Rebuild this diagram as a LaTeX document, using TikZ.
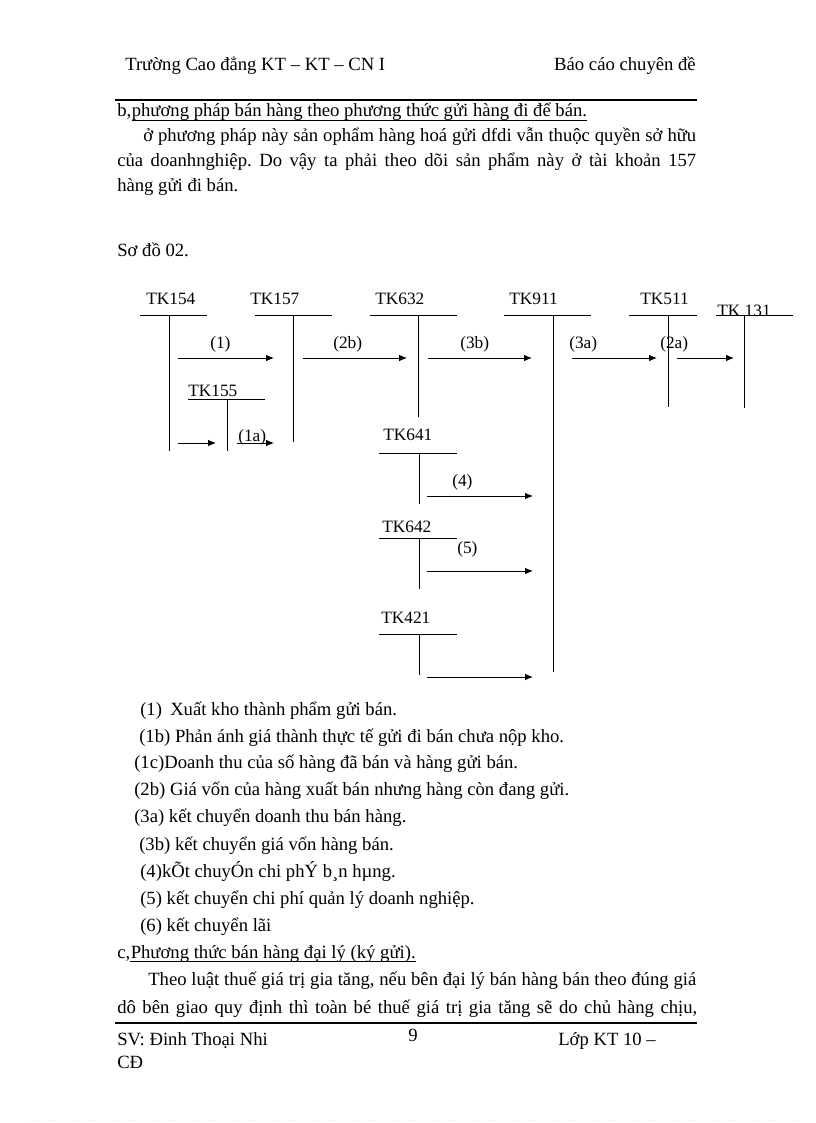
\documentclass[tikz,border=0pt]{standalone}
\usepackage{fontspec}
\setmainfont{Liberation Serif}
\usetikzlibrary{arrows.meta}
\newlength\pxu
\setlength\pxu{0.75pt}
\frenchspacing
\begin{document}
\begin{tikzpicture}[x=0.75pt,y=-0.75pt,
 txt/.style={anchor=base west,inner sep=0pt,font=\fontsize{14}{16}\selectfont},
 lbl/.style={anchor=base west,inner sep=0pt,font=\fontsize{13}{15}\selectfont},
 acc/.style={line width=0.75pt},
 arr/.style={line width=0.75pt,-{Latex[length=6pt,width=5pt]}},
 hrule/.style={line width=1.6pt},
 uline/.style={line width=0.6pt}]
\useasboundingbox[fill=white] (0,0) rectangle (816,1123);
% header
\node[txt] (h1) at (125,71) {Trường Cao đẳng KT – KT – CN I};
\node[txt,anchor=base east] (h2) at (696,71) {Báo cáo chuyên đề};
\coordinate (r1a) at (115,100); \coordinate (r1b) at (697,100);
\draw[hrule] (r1a) -- (r1b);
% section b
\node[txt] (b0) at (117,117) {b,};
\node[txt] (b1) at (b0.base east) {phương pháp bán hàng theo phương thức gửi hàng đi để bán.};
\draw[uline] ([yshift=-2.2pt]b1.base west) -- ([yshift=-2.2pt]b1.base east);
\node[txt] (p1) at (143,142) {\makebox[553\pxu][s]{ở phương pháp này sản ophẩm hàng hoá gửi dfdi vẫn thuộc quyền sở hữu}};
\node[txt] (p2) at (117,167) {\makebox[579\pxu][s]{của doanhnghiệp. Do vậy ta phải theo dõi sản phẩm này ở tài khoản 157}};
\node[txt] (p3) at (117,192) {hàng gửi đi bán.};
\node[txt] (s0) at (117,257) {Sơ đồ 02.};
% accounts
\node[lbl] (tk154) at (146,304) {TK154};
\coordinate (a154l) at (140,315); \coordinate (a154r) at (207,315);
\coordinate (a154t) at (169,315); \coordinate (a154b) at (169,451);
\draw[acc] (a154l) -- (a154r); \draw[acc] (a154t) -- (a154b);
\node[lbl] (tk157) at (250,304) {TK157};
\coordinate (a157l) at (255,315); \coordinate (a157r) at (332,315);
\coordinate (a157t) at (293,315); \coordinate (a157b) at (293,442);
\draw[acc] (a157l) -- (a157r); \draw[acc] (a157t) -- (a157b);
\node[lbl] (tk632) at (375,304) {TK632};
\coordinate (a632l) at (370,315); \coordinate (a632r) at (457,315);
\coordinate (a632t) at (418,315); \coordinate (a632b) at (418,417);
\draw[acc] (a632l) -- (a632r); \draw[acc] (a632t) -- (a632b);
\node[lbl] (tk911) at (509,304) {TK911};
\coordinate (a911l) at (504,315); \coordinate (a911r) at (591,315);
\coordinate (a911t) at (553,315); \coordinate (a911b) at (553,672);
\draw[acc] (a911l) -- (a911r); \draw[acc] (a911t) -- (a911b);
\node[lbl] (tk511) at (640,304) {TK511};
\coordinate (a511l) at (629,315); \coordinate (a511r) at (697,315);
\coordinate (a511t) at (668,315); \coordinate (a511b) at (668,407);
\draw[acc] (a511l) -- (a511r); \draw[acc] (a511t) -- (a511b);
\node[lbl] (tk131) at (717,316) {TK 131};
\coordinate (a131l) at (716,315); \coordinate (a131r) at (793,315);
\coordinate (a131t) at (744,315); \coordinate (a131b) at (744,408);
\draw[acc] (a131l) -- (a131r); \draw[acc] (a131t) -- (a131b);
\node[lbl] (tk155) at (188,396) {TK155};
\coordinate (a155l) at (188,399); \coordinate (a155r) at (265,399);
\coordinate (a155t) at (227,399); \coordinate (a155b) at (227,451);
\draw[acc] (a155l) -- (a155r); \draw[acc] (a155t) -- (a155b);
\node[lbl] (tk641) at (383,440) {TK641};
\coordinate (a641l) at (379,453); \coordinate (a641r) at (457,453);
\coordinate (a641t) at (419,453); \coordinate (a641b) at (419,504);
\draw[acc] (a641l) -- (a641r); \draw[acc] (a641t) -- (a641b);
\node[lbl] (tk642) at (382,532) {TK642};
\coordinate (a642l) at (379,538); \coordinate (a642r) at (457,538);
\coordinate (a642t) at (419,538); \coordinate (a642b) at (419,589);
\draw[acc] (a642l) -- (a642r); \draw[acc] (a642t) -- (a642b);
\node[lbl] (tk421) at (381,623) {TK421};
\coordinate (a421l) at (379,634); \coordinate (a421r) at (457,634);
\coordinate (a421t) at (419,634); \coordinate (a421b) at (419,675);
\draw[acc] (a421l) -- (a421r); \draw[acc] (a421t) -- (a421b);
% arrows
\coordinate (e1s) at (178,358); \coordinate (e1e) at (274,358);
\draw[arr] (e1s) -- (e1e); \node[lbl] (l1) at (210,348) {(1)};
\coordinate (e2bs) at (303,358); \coordinate (e2be) at (407,358);
\draw[arr] (e2bs) -- (e2be); \node[lbl] (l2b) at (333,348) {(2b)};
\coordinate (e3bs) at (428,358); \coordinate (e3be) at (532,358);
\draw[arr] (e3bs) -- (e3be); \node[lbl] (l3b) at (460,348) {(3b)};
\coordinate (e3as) at (572,358); \coordinate (e3ae) at (657,358);
\draw[arr] (e3as) -- (e3ae); \node[lbl] (l3a) at (569,348) {(3a)};
\coordinate (e2as) at (677,358); \coordinate (e2ae) at (734,358);
\draw[arr] (e2as) -- (e2ae); \node[lbl] (l2a) at (660,348) {(2a)};
\coordinate (e0s) at (178,443); \coordinate (e0e) at (216,443);
\draw[arr] (e0s) -- (e0e);
\coordinate (e1as) at (237,443); \coordinate (e1ae) at (274,443);
\draw[arr] (e1as) -- (e1ae); \node[lbl] (l1a) at (238,441) {(1a)};
\coordinate (e4s) at (427,496); \coordinate (e4e) at (533,496);
\draw[arr] (e4s) -- (e4e); \node[lbl] (l4) at (452,486) {(4)};
\coordinate (e5s) at (427,571); \coordinate (e5e) at (533,571);
\draw[arr] (e5s) -- (e5e); \node[lbl] (l5) at (457,553) {(5)};
\coordinate (e6s) at (427,677); \coordinate (e6e) at (533,677);
\draw[arr] (e6s) -- (e6e);
% legend
\node[txt] (n1) at (140,715) {(1)};
\node[txt] (n1t) at (170,715) {Xuất kho thành phẩm gửi bán.};
\node[txt] (n1b) at (139,742) {(1b) Phản ánh giá thành thực tế gửi  đi bán chưa nộp kho.};
\node[txt] (n1c) at (134,768) {(1c)Doanh thu của số hàng đã bán và hàng gửi bán.};
\node[txt] (n2b) at (134,795) {(2b) Giá vốn của hàng xuất bán nhưng hàng còn đang gửi.};
\node[txt] (n3a) at (134,822) {(3a) kết chuyển doanh thu bán hàng.};
\node[txt] (n3b) at (139,850) {(3b) kết chuyển giá vốn hàng bán.};
\node[txt] (n4) at (140,877) {(4)kÕt chuyÓn chi phÝ b¸n hµng.};
\node[txt] (n5) at (140,904) {(5) kết chuyển chi phí quản lý doanh nghiệp.};
\node[txt] (n6) at (140,931) {(6) kết chuyển lãi};
% section c
\node[txt] (c0) at (117,958) {c,};
\node[txt] (c1) at (c0.base east) {Phương thức bán hàng đại lý (ký gửi).};
\draw[uline] ([yshift=-2.2pt]c1.base west) -- ([yshift=-2.2pt]c1.base east);
\node[txt] (q1) at (148,985) {\makebox[548\pxu][s]{Theo luật thuế giá trị gia tăng, nếu bên đại lý bán hàng bán theo đúng giá}};
\node[txt] (q2) at (117,1013) {\makebox[580\pxu][s]{dô bên giao quy định thì toàn bé thuế giá trị gia tăng sẽ do chủ hàng chịu,}};
% footer
\coordinate (r2a) at (115,1023); \coordinate (r2b) at (697,1023);
\draw[hrule] (r2a) -- (r2b);
\node[txt] (f1) at (117,1045) {SV: Đinh Thoại Nhi};
\node[txt] (f2) at (408,1041) {9};
\node[txt] (f3) at (558,1045) {Lớp KT 10 –};
\node[txt] (f4) at (117,1068) {CĐ};
\coordinate (d1) at (25,1120); \coordinate (d2) at (800,1120);
\draw[pink!40,line width=0.5pt,dotted] (d1) -- (d2);
\end{tikzpicture}
\end{document}
